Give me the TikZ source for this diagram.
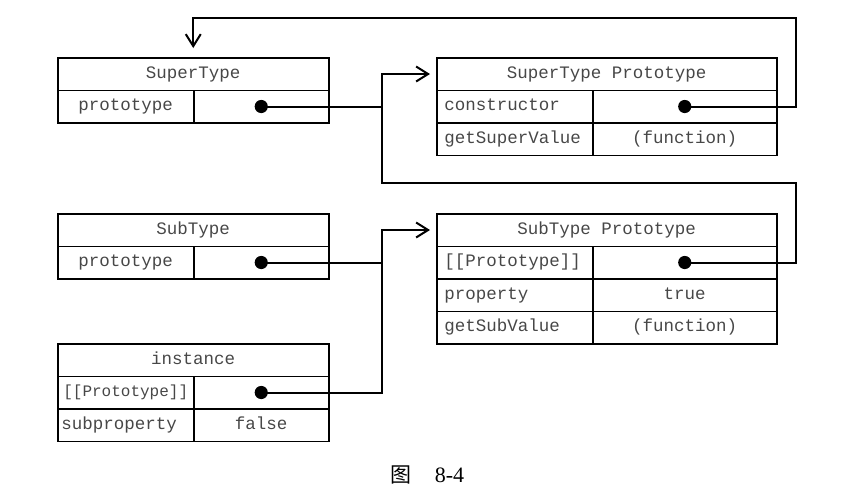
\documentclass[tikz,border=0pt]{standalone}
\usepackage{fontspec}
\setmonofont{Liberation Mono}
\newfontfamily\cjkfont{Noto Sans CJK SC}
\newfontfamily\capfont{Liberation Serif}
\usetikzlibrary{arrows.meta}

\begin{document}
\begin{tikzpicture}[x=0.5pt,y=-0.5pt,
  txt/.style={font=\ttfamily\fontsize{8.75}{10}\selectfont, text=black!72, inner sep=0pt,
    text height=6.2pt, text depth=1.8pt},
  box/.style={txt, draw=black, line width=0.75pt, minimum height=16.25pt, anchor=north west},
  lbl/.style={txt, anchor=west},
  dot/.style={circle, fill=black, inner sep=0pt, minimum size=6.6pt},
  link/.style={line width=1pt, line join=miter},
  ptr/.style={link, -{Straight Barb[length=6pt,width=7.5pt,line width=1pt]}}]
\useasboundingbox (0,0) rectangle (859,504);

% SuperType
\node[box, minimum width=135.5pt] (st) at (57,57) {SuperType};
\node[box, minimum width=68pt] (stp) at (57,89.5) {prototype};
\node[box, minimum width=67.5pt] (stpv) at (193,89.5) {};
\node[dot] (stdot) at (stpv.center) {};

% SuperType Prototype
\node[box, minimum width=170pt] (sph) at (436,57) {SuperType Prototype};
\node[box, minimum width=78pt] (spc) at (436,89.5) {};
\node[box, minimum width=92pt] (spcv) at (592,89.5) {};
\node[box, minimum width=78pt] (spg) at (436,122) {};
\node[box, minimum width=92pt] (spgv) at (592,122) {(function)};
\node[lbl] (spclbl) at ([xshift=4pt]spc.west) {constructor};
\node[lbl] (spglbl) at ([xshift=4pt]spg.west) {getSuperValue};
\node[dot] (spdot) at (spcv.center) {};

% SubType
\node[box, minimum width=135.5pt] (sb) at (57,213) {SubType};
\node[box, minimum width=68pt] (sbp) at (57,245.5) {prototype};
\node[box, minimum width=67.5pt] (sbpv) at (193,245.5) {};
\node[dot] (sbdot) at (sbpv.center) {};

% SubType Prototype
\node[box, minimum width=170pt] (bph) at (436,213) {SubType Prototype};
\node[box, minimum width=78pt] (bpp) at (436,245.5) {};
\node[box, minimum width=92pt] (bppv) at (592,245.5) {};
\node[box, minimum width=78pt] (bpr) at (436,278) {};
\node[box, minimum width=92pt] (bprv) at (592,278) {true};
\node[box, minimum width=78pt] (bpg) at (436,310.5) {};
\node[box, minimum width=92pt] (bpgv) at (592,310.5) {(function)};
\node[lbl] (bpplbl) at ([xshift=4pt]bpp.west) {[[Prototype]]};
\node[lbl] (bprlbl) at ([xshift=4pt]bpr.west) {property};
\node[lbl] (bpglbl) at ([xshift=4pt]bpg.west) {getSubValue};
\node[dot] (bpdot) at (bppv.center) {};

% instance
\node[box, minimum width=135.5pt] (in) at (57,343) {instance};
\node[box, minimum width=68pt, font=\ttfamily\fontsize{8}{10}\selectfont] (inp) at (57,375.5) {[[Prototype]]};
\node[box, minimum width=67.5pt] (inpv) at (193,375.5) {};
\node[box, minimum width=68pt] (ins) at (57,408) {};
\node[box, minimum width=67.5pt] (insv) at (193,408) {false};
\node[lbl] (inslbl) at ([xshift=2pt]ins.west) {subproperty};
\node[dot] (indot) at (inpv.center) {};

% routing points
\coordinate (bus) at (382,0);
\coordinate (j1) at (bus |- stdot);
\coordinate (j2) at (382,183);
\coordinate (r1) at (796,183);
\coordinate (j3) at (bus |- sbdot);
\coordinate (t1) at (796,18);

% prototype pointers
\draw[ptr, shorten >=3pt] (stdot.center) -- (j1) |- (sph.west);
\draw[link] (bpdot.center) -| (r1) -- (j2) -- (j1);
\draw[ptr, shorten >=4.5pt] (spdot.center) -| (t1) -| (st.north);
\draw[ptr, shorten >=3pt] (sbdot.center) -- (j3) |- (bph.west);
\draw[link] (indot.center) -| (j3);

% caption
\node[font=\cjkfont\fontsize{10.5}{12}\selectfont, anchor=base, inner sep=0pt] (figch) at (401,482) {图};
\node[font=\capfont\fontsize{11}{12}\selectfont, anchor=base, inner sep=0pt] (fignum) at (449.5,482) {8-4};
\end{tikzpicture}
\end{document}
